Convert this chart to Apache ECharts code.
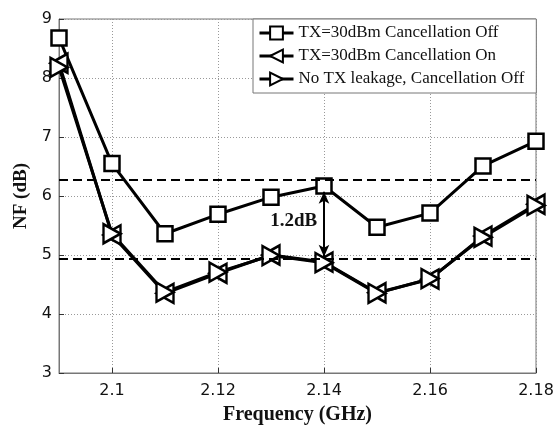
<!DOCTYPE html>
<html>
<head>
<meta charset="utf-8">
<script src="https://cdn.jsdelivr.net/npm/echarts@6/dist/echarts.min.js"></script>
<style>
html,body{margin:0;padding:0;background:#fff;}
#chart{width:557px;height:430px;}
</style>
</head>
<body>
<div id="chart"></div>
<script>
const freq = [2.09, 2.10, 2.11, 2.12, 2.13, 2.14, 2.15, 2.16, 2.17, 2.18];
const nfCancelOff = [8.68, 6.55, 5.36, 5.69, 5.98, 6.17, 5.47, 5.71, 6.51, 6.93];
const nfCancelOn = [8.25, 5.34, 4.35, 4.69, 5.00, 4.88, 4.36, 4.59, 5.32, 5.86];
const nfNoLeak = [8.18, 5.36, 4.37, 4.71, 4.99, 4.87, 4.35, 4.60, 5.30, 5.84];
const seriesNames = ['TX=30dBm Cancellation Off', 'TX=30dBm Cancellation On', 'No TX leakage, Cancellation Off'];
const xTicks = [2.10, 2.12, 2.14, 2.16, 2.18];
const refLevels = [6.27, 4.93];
const arrowEnds = [6.07, 4.97];
const arrowFreq = 2.14;
const gapLabel = '1.2dB';
const gapLabelPos = [2.1343, 5.58];

const pairs = (ys) => freq.map((f, i) => [f, ys[i]]);
const leftTri = 'path://M0,10 L20,0 L20,20 Z';
const rightTri = 'path://M20,10 L0,0 L0,20 Z';
const serifFont = '"Liberation Serif", "Times New Roman", serif';
const sansFont = '"DejaVu Sans", Arial, sans-serif';

const chart = echarts.init(document.getElementById('chart'), null, {renderer: 'canvas'});
const baseSeries = {
  type: 'line',
  color: '#000',
  lineStyle: {color: '#000', width: 3},
  itemStyle: {color: '#fff', borderColor: '#000', borderWidth: 2.5},
  showAllSymbol: true,
  animation: false,
  z: 3
};
chart.setOption({
  animation: false,
  backgroundColor: '#fff',
  grid: {left: 59, right: 21, top: 19, bottom: 57, show: true, borderColor: '#777', borderWidth: 1, backgroundColor: 'transparent'},
  legend: {
    orient: 'vertical',
    left: 253, top: 19,
    padding: [5, 12, 5, 5],
    itemGap: 5,
    itemWidth: 34, itemHeight: 16,
    backgroundColor: '#fff',
    borderColor: '#777', borderWidth: 1,
    borderRadius: 0,
    lineStyle: {width: 3},
    textStyle: {fontFamily: serifFont, fontSize: 17, color: '#111', lineHeight: 18},
    data: seriesNames
  },
  xAxis: {
    type: 'value', min: 2.09, max: 2.18,
    axisLine: {lineStyle: {color: '#777', width: 1}},
    axisTick: {inside: true, length: 5, lineStyle: {color: '#333'}, customValues: xTicks},
    axisLabel: {customValues: xTicks, fontFamily: sansFont, fontSize: 16, color: '#111', margin: 10,
      formatter: (v) => String(Math.round(v * 100) / 100)},
    splitLine: {show: true, lineStyle: {color: '#999', type: [1, 2], width: 1}},
    name: 'Frequency (GHz)', nameLocation: 'middle', nameGap: 32,
    nameTextStyle: {fontFamily: serifFont, fontWeight: 'bold', fontSize: 20, color: '#111'}
  },
  yAxis: {
    type: 'value', min: 3, max: 9, interval: 1,
    axisLine: {show: true, lineStyle: {color: '#777', width: 1}},
    axisTick: {show: true, inside: true, length: 5, lineStyle: {color: '#333'}},
    axisLabel: {fontFamily: sansFont, fontSize: 16, color: '#111', margin: 7},
    splitLine: {show: true, lineStyle: {color: '#999', type: [1, 2], width: 1}},
    name: 'NF (dB)', nameLocation: 'middle', nameGap: 28,
    nameTextStyle: {fontFamily: serifFont, fontWeight: 'bold', fontSize: 19, color: '#111'}
  },
  series: [
    Object.assign({}, baseSeries, {
      name: seriesNames[0], data: pairs(nfCancelOff), symbol: 'rect', symbolSize: 15,
      markLine: {
        silent: true, symbol: ['none', 'none'], animation: false,
        lineStyle: {color: '#000', width: 2, type: [9, 5]},
        label: {show: false},
        data: refLevels.map(v => ({yAxis: v}))
      }
    }),
    Object.assign({}, baseSeries, {
      name: seriesNames[1], data: pairs(nfCancelOn), symbol: leftTri, symbolSize: [17, 19],
      markLine: {
        silent: true, symbol: ['arrow', 'arrow'], symbolSize: [8, 12], animation: false,
        lineStyle: {color: '#000', width: 2, type: 'solid'},
        label: {show: false},
        data: [[{coord: [arrowFreq, arrowEnds[0]]}, {coord: [arrowFreq, arrowEnds[1]]}]]
      }
    }),
    Object.assign({}, baseSeries, {
      name: seriesNames[2], data: pairs(nfNoLeak), symbol: rightTri, symbolSize: [17, 19],
      markPoint: {
        silent: true, animation: false, symbol: 'circle', symbolSize: 1,
        itemStyle: {color: 'rgba(0,0,0,0)', borderWidth: 0},
        label: {show: true, position: 'inside', formatter: gapLabel, fontFamily: serifFont, fontWeight: 'bold', fontSize: 19, color: '#111'},
        data: [{coord: gapLabelPos}]
      }
    })
  ]
});
</script>
</body>
</html>
